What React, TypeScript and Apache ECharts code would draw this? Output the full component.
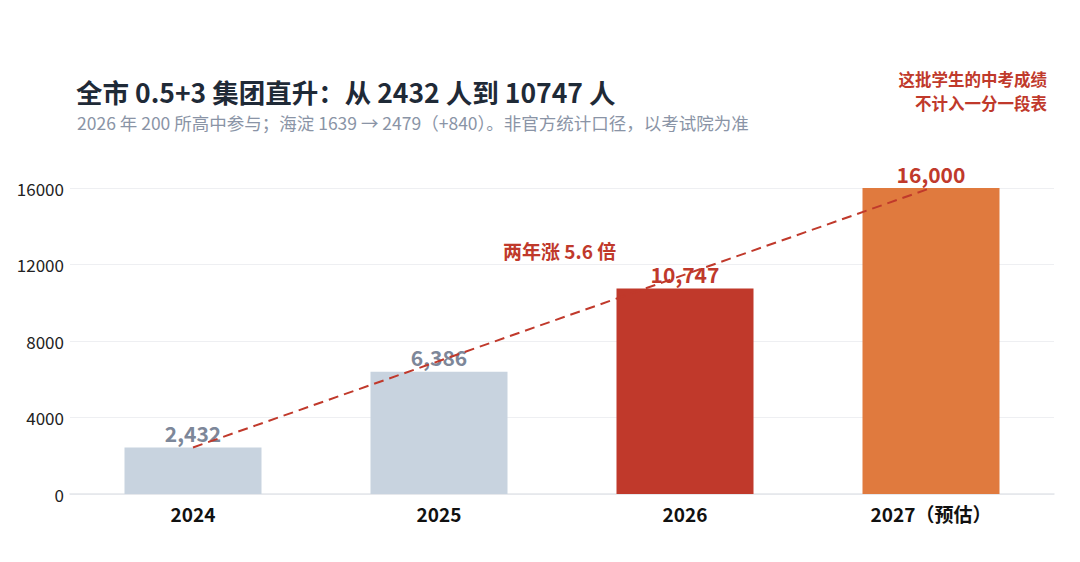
import { useEffect, useRef } from 'react';
import * as echarts from 'echarts';

const years = ['2024', '2025', '2026', '2027（预估）'];
const students = [2432, 6386, 10747, 16000];
const barColors = ['#c8d3df', '#c8d3df', '#c0392b', '#e07a3e'];
const labelColors = ['#7d8799', '#7d8799', '#c0392b', '#c0392b'];
const yTicks = [0, 4000, 8000, 12000, 16000];
const noteLines = ['这批学生的中考成绩', '不计入一分一段表'];

const FONT = '"Noto Sans CJK SC", "Noto Sans", sans-serif';

export default function App() {
  const chartRef = useRef<HTMLDivElement>(null);

  useEffect(() => {
    if (!chartRef.current) return;
    const chart = echarts.init(chartRef.current, null, { renderer: 'svg' });

    const option = {
      animation: false,
      textStyle: { fontFamily: FONT },
      grid: { left: 70, right: 26, top: 188, bottom: 68, containLabel: false },
      graphic: [
        {
          type: 'text',
          x: 76,
          y: 78,
          style: {
            text: '全市 0.5+3 集团直升：从 2432 人到 10747 人',
            font: `bold 26.5px ${FONT}`,
            fill: '#1f2a37',
          },
        },
        {
          type: 'text',
          x: 77,
          y: 114,
          style: {
            text: '2026 年 200 所高中参与；海淀 1639 → 2479（+840）。非官方统计口径，以考试院为准',
            font: `17.5px ${FONT}`,
            fill: '#8a94a6',
          },
        },
        ...noteLines.map((t, i) => ({
          type: 'text',
          x: 1047,
          y: 71 + i * 24,
          style: {
            text: t,
            font: `bold 16.5px ${FONT}`,
            fill: '#c0392b',
            align: 'right',
          },
        })),
        {
          type: 'text',
          x: 503,
          y: 241,
          style: {
            text: '两年涨 5.6 倍',
            font: `bold 19px ${FONT}`,
            fill: '#c0392b',
          },
        },
      ],
      xAxis: {
        type: 'category',
        data: years,
        axisLine: { lineStyle: { color: '#e3e6ea', width: 1.5 } },
        axisTick: { show: false },
        axisLabel: {
          color: '#111',
          fontSize: 19,
          fontWeight: 'bold',
          margin: 10,
        },
      },
      yAxis: {
        type: 'value',
        min: yTicks[0],
        max: yTicks[yTicks.length - 1],
        interval: 4000,
        axisLine: { show: false },
        axisTick: { show: false },
        axisLabel: {
          color: '#222',
          fontSize: 17,
          margin: 6,
          formatter: (v: number) => String(v),
        },
        splitLine: { lineStyle: { color: '#eeeff2' } },
      },
      series: [
        {
          type: 'bar',
          barWidth: 137,
          data: students.map((v, i) => ({
            value: v,
            itemStyle: { color: barColors[i] },
            label: { color: labelColors[i] },
          })),
          label: {
            show: true,
            position: 'top',
            distance: 4,
            fontSize: 21,
            fontWeight: 'bold',
            formatter: (p: any) => p.value.toLocaleString('en-US'),
          },
          markLine: {
            silent: true,
            symbol: 'none',
            label: { show: false },
            lineStyle: { color: '#c0392b', width: 2, type: [10, 6] },
            data: [
              [
                { coord: [years[0], students[0]] },
                { coord: [years[3], students[3]] },
              ],
            ],
          },
        },
      ],
    };

    chart.setOption(option);
    return () => chart.dispose();
  }, []);

  return (
    <div
      ref={chartRef}
      style={{ position: 'absolute', left: 0, top: 0, width: 1080, height: 562 }}
    />
  );
}
